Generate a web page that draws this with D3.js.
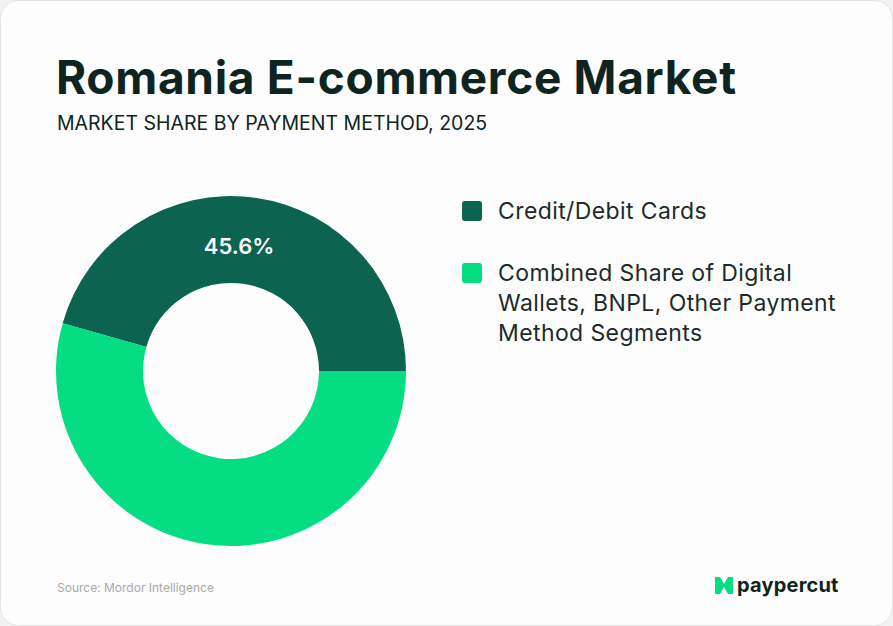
<!DOCTYPE html>
<html><head><meta charset="utf-8">
<script src="https://cdn.jsdelivr.net/npm/d3@7"></script>
<style>
html,body{margin:0;padding:0;background:#f2f2f2;}
svg{display:block;}
</style></head>
<body>
<svg id="chart" width="893" height="626"></svg>
<script>
const categories = ["Credit/Debit Cards", "Combined Share of Digital Wallets, BNPL, Other Payment Method Segments"];
const legendLines = [["Credit/Debit Cards"], ["Combined Share of Digital", "Wallets, BNPL, Other Payment", "Method Segments"]];
const values = [45.6, 54.4];
const labels = ["45.6%", ""];
const colors = ["#0b6350", "#05dd83"];

const svg = d3.select("#chart");
const font = "Inter, 'Noto Sans', sans-serif";

svg.append("rect").attr("x",0.5).attr("y",0.5).attr("width",892).attr("height",625)
  .attr("rx",18).attr("fill","#fdfdfd").attr("stroke","#e3e3e3");

svg.append("text").attr("x",56).attr("y",94).attr("font-family",font).attr("font-weight",700)
  .attr("font-size",46).attr("fill","#0e2420").attr("letter-spacing","0.7")
  .text("Romania E-commerce Market");
svg.append("text").attr("x",57).attr("y",130).attr("font-family",font).attr("font-weight",400)
  .attr("font-size",19.5).attr("fill","#0e2420")
  .text("MARKET SHARE BY PAYMENT METHOD, 2025");

const cx = 231, cy = 371, rOuter = 175, rInner = 88;
const pie = d3.pie().sort(null).value(d=>d).startAngle(Math.PI/2).endAngle(Math.PI/2 - 2*Math.PI);
const arcs = pie(values);
const arc = d3.arc().innerRadius(rInner).outerRadius(rOuter);
const g = svg.append("g").attr("transform",`translate(${cx},${cy})`);
g.selectAll("path").data(arcs).join("path").attr("d",arc).attr("fill",(d,i)=>colors[i]);
const labelArc = d3.arc().innerRadius(rInner).outerRadius(rOuter);
g.selectAll("text.lbl").data(arcs).join("text").attr("class","lbl")
  .attr("transform",d=>{const c=labelArc.centroid(d);return `translate(${c[0]-10},${c[1]+5})`;})
  .attr("text-anchor","middle").attr("dominant-baseline","central")
  .attr("font-family",font).attr("font-weight",600).attr("font-size",22).attr("fill","#ffffff")
  .text((d,i)=>labels[i]);

const legendY = [211, 273];
const lg = svg.append("g");
categories.forEach((c,i)=>{
  lg.append("rect").attr("x",462).attr("y",legendY[i]-10).attr("width",20).attr("height",20)
    .attr("rx",3).attr("fill",colors[i]);
  const t = lg.append("text").attr("font-family",font).attr("font-size",23).attr("letter-spacing","0.4").attr("fill","#1c2b28");
  legendLines[i].forEach((line,j)=>{
    t.append("tspan").attr("x",498).attr("y",legendY[i]+8+j*30).text(line);
  });
});

svg.append("text").attr("x",57).attr("y",592).attr("font-family",font).attr("font-size",12)
  .attr("fill","#a9a9a9").text("Source: Mordor Intelligence");

// logo
const logo = svg.append("g").attr("transform","translate(715,577)");
logo.append("path").attr("d","M0,0 L5,0 L9,7 L13,0 L18,0 L18,17 L13,17 L9,10 L5,17 L0,17 Z").attr("fill","#05dd83");
svg.append("text").attr("x",737).attr("y",592).attr("font-family",font).attr("font-weight",700)
  .attr("font-size",20).attr("fill","#0e2420").attr("letter-spacing","0.2").text("paypercut");
</script>
</body></html>
